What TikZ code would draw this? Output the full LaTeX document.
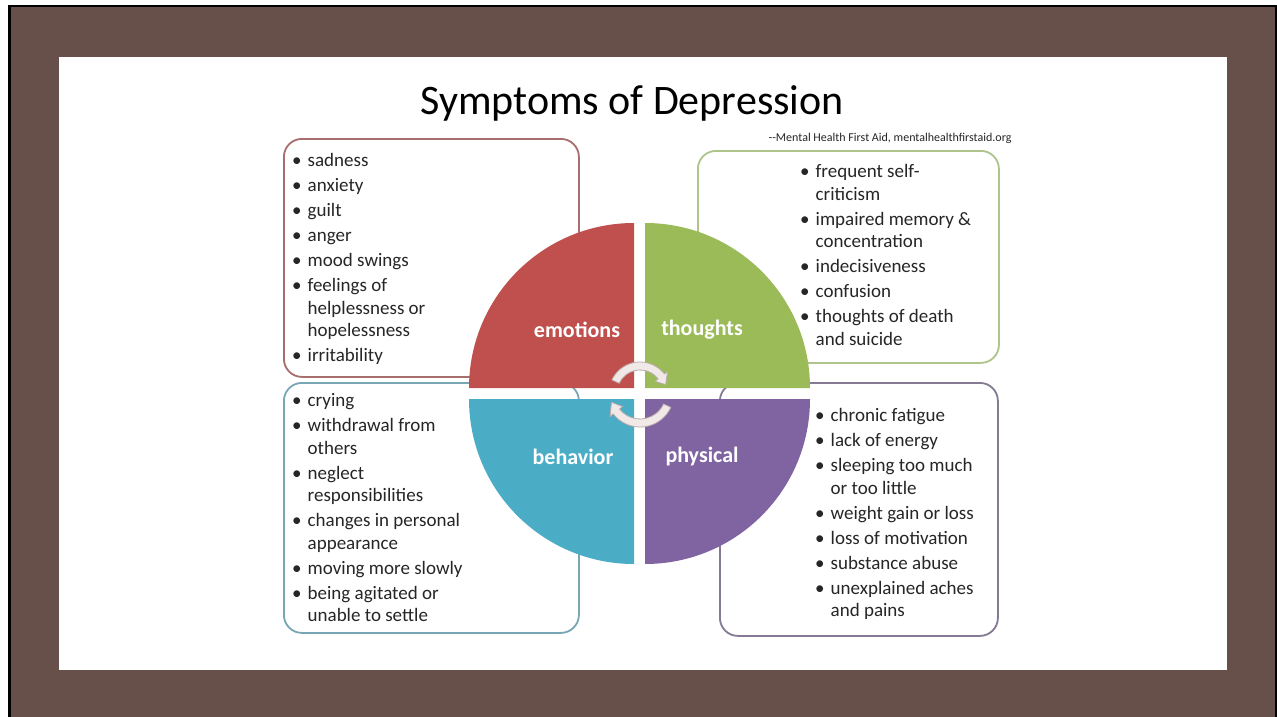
\documentclass[tikz,border=0pt]{standalone}
\usepackage{fontspec}
\setmainfont{Carlito}
\usepackage{tikz}
\usetikzlibrary{positioning}
\definecolor{frame}{RGB}{102,80,73}
\definecolor{emored}{HTML}{C0504D}
\definecolor{thogreen}{HTML}{9BBB59}
\definecolor{behblue}{HTML}{4BACC6}
\definecolor{phypurple}{HTML}{8064A2}
\definecolor{emoline}{HTML}{A86E6E}
\definecolor{tholine}{HTML}{AFC48A}
\definecolor{behline}{HTML}{78A6B4}
\definecolor{phyline}{HTML}{857A93}
\definecolor{cycfill}{HTML}{F1E8E8}
\definecolor{cycline}{HTML}{B9ABAB}
\newcommand\bt{\makebox[15.5pt][l]{\textbullet}}
\tikzset{
  symbox/.style ={draw, line width=1.8pt, rounded corners=18pt, inner sep=0pt, anchor=north west},
  symlist/.style={anchor=north west, inner sep=0pt, font=\fontsize{19}{22.5}\selectfont, text=black!85},
  qlabel/.style ={font=\fontsize{22}{26}\selectfont\bfseries, text=white},
  cyc/.style    ={fill=cycfill, draw=cycline, line width=0.8pt}
}

\begin{document}
\begin{tikzpicture}[x=1pt, y=-1pt]
\useasboundingbox (0,0) rectangle (1277,717);
\fill[white] (0,0) rectangle (1277,717);
\fill[black] (8,5) rectangle (1277,717);
\fill[frame] (11,7) rectangle (1275,717);
\fill[white] (59,57) rectangle (1227,670);

\node[font=\fontsize{42}{50}\selectfont, anchor=base] (title) at (632,114) {Symptoms of Depression};
\node[font=\fontsize{12}{14}\selectfont, anchor=base east, text=black!85] (src) at (1015,141) {{-}{-}Mental Health First Aid, mentalhealthfirstaid.org};

\node[symbox, draw=emoline, minimum width=295pt, minimum height=238pt] (emoBox) at (283,138) {};
\node[symbox, draw=tholine, minimum width=301pt, minimum height=212pt] (thoBox) at (697,150) {};
\node[symbox, draw=behline, minimum width=295pt, minimum height=250pt] (behBox) at (283,382) {};
\node[symbox, draw=phyline, minimum width=278pt, minimum height=253pt] (phyBox) at (719,382) {};

\node[symlist] (emoList) at ([shift={(9,13)}]emoBox.north west) {\begin{tabular}{@{}l@{}l@{}}
\bt & sadness\\[2.5pt]
\bt & anxiety\\[2.5pt]
\bt & guilt\\[2.5pt]
\bt & anger\\[2.5pt]
\bt & mood swings\\[2.5pt]
\bt & feelings of\\
    & helplessness or\\
    & hopelessness\\[2.5pt]
\bt & irritability
\end{tabular}};
\node[symlist] (thoList) at ([shift={(103,12)}]thoBox.north west) {\begin{tabular}{@{}l@{}l@{}}
\bt & frequent self-\\
    & criticism\\[2.5pt]
\bt & impaired memory \&\\
    & concentration\\[2.5pt]
\bt & indecisiveness\\[2.5pt]
\bt & confusion\\[2.5pt]
\bt & thoughts of death\\
    & and suicide
\end{tabular}};
\node[symlist] (behList) at ([shift={(9,9)}]behBox.north west) {\begin{tabular}{@{}l@{}l@{}}
\bt & crying\\[2.5pt]
\bt & withdrawal from\\
    & others\\[2.5pt]
\bt & neglect\\
    & responsibilities\\[2.5pt]
\bt & changes in personal\\
    & appearance\\[2.5pt]
\bt & moving more slowly\\[2.5pt]
\bt & being agitated or\\
    & unable to settle
\end{tabular}};
\node[symlist] (phyList) at ([shift={(96,24)}]phyBox.north west) {\begin{tabular}{@{}l@{}l@{}}
\bt & chronic fatigue\\[2.5pt]
\bt & lack of energy\\[2.5pt]
\bt & sleeping too much\\
    & or too little\\[2.5pt]
\bt & weight gain or loss\\[2.5pt]
\bt & loss of motivation\\[2.5pt]
\bt & substance abuse\\[2.5pt]
\bt & unexplained aches\\
    & and pains
\end{tabular}};

% four quarters of the wheel
\fill[emored]    (634,388) -- ++(-165,0) arc[start angle=180, end angle=270, radius=165] -- cycle;
\fill[thogreen]  (645,388) -- ++(0,-165) arc[start angle=270, end angle=360, radius=165] -- cycle;
\fill[behblue]   (634,399) -- ++(-165,0) arc[start angle=180, end angle=90,  radius=165] -- cycle;
\fill[phypurple] (645,399) -- ++(165,0)  arc[start angle=0,   end angle=90,  radius=165] -- cycle;

\node[qlabel] (emo) at (577,330) {emotions};
\node[qlabel] (tho) at (702,330) {thoughts};
\node[qlabel] (beh) at (573,457) {behavior};
\node[qlabel] (phy) at (702,457) {physical};

% cycle arrows in the middle
\begin{scope}[shift={(640,393)}]
\path[cyc] (205:31) arc[start angle=205, end angle=322, radius=31] -- (322:35) -- (342:27)
  -- (322:19) -- (322:23) arc[start angle=322, end angle=205, radius=23] -- cycle;
\path[cyc] (25:34) arc[start angle=25, end angle=142, radius=34] -- (142:38) -- (162:30)
  -- (142:22) -- (142:26) arc[start angle=142, end angle=25, radius=26] -- cycle;
\end{scope}
\end{tikzpicture}
\end{document}
